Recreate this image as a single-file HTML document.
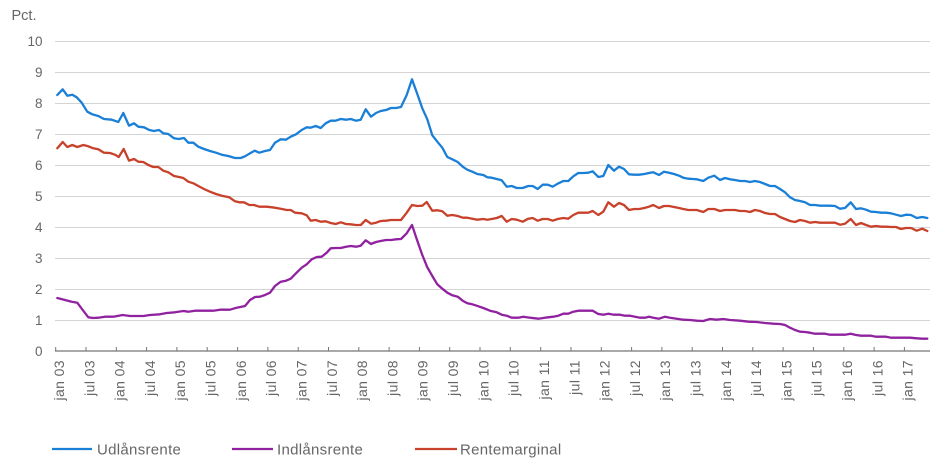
<!DOCTYPE html>
<html>
<head>
<meta charset="utf-8">
<style>
html,body{margin:0;padding:0;background:#fff;}
svg{display:block;}
text{font-family:"Liberation Sans",sans-serif;fill:#666;}
</style>
</head>
<body>
<svg width="938" height="473" viewBox="0 0 938 473" xmlns="http://www.w3.org/2000/svg">
<rect width="938" height="473" fill="#fff"/>
<text x="11.5" y="20" font-size="14.5">Pct.</text>
<g stroke="#d4d4d4" stroke-width="1">
<line x1="55" x2="930" y1="41.5" y2="41.5"/>
<line x1="55" x2="930" y1="72.5" y2="72.5"/>
<line x1="55" x2="930" y1="103.5" y2="103.5"/>
<line x1="55" x2="930" y1="134.5" y2="134.5"/>
<line x1="55" x2="930" y1="165.5" y2="165.5"/>
<line x1="55" x2="930" y1="196.5" y2="196.5"/>
<line x1="55" x2="930" y1="227.5" y2="227.5"/>
<line x1="55" x2="930" y1="258.5" y2="258.5"/>
<line x1="55" x2="930" y1="289.5" y2="289.5"/>
<line x1="55" x2="930" y1="320.5" y2="320.5"/>
</g>
<g font-size="13.5" text-anchor="end">
<text x="42.5" y="46">10</text>
<text x="42.5" y="77">9</text>
<text x="42.5" y="108">8</text>
<text x="42.5" y="139">7</text>
<text x="42.5" y="170">6</text>
<text x="42.5" y="201">5</text>
<text x="42.5" y="232">4</text>
<text x="42.5" y="263">3</text>
<text x="42.5" y="294">2</text>
<text x="42.5" y="325">1</text>
<text x="42.5" y="356">0</text>
</g>
<line x1="55" x2="930" y1="351" y2="351" stroke="#767676" stroke-width="1.3"/>
<g stroke="#767676" stroke-width="1">
<path d="M55.7 347V351M86 347V351M116.3 347V351M146.6 347V351M176.9 347V351M207.2 347V351M237.6 347V351M267.9 347V351M298.2 347V351M328.5 347V351M358.8 347V351M389.1 347V351M419.4 347V351M449.7 347V351M480 347V351M510.3 347V351M540.7 347V351M571 347V351M601.3 347V351M631.6 347V351M661.9 347V351M692.2 347V351M722.5 347V351M752.8 347V351M783.1 347V351M813.4 347V351M843.8 347V351M874.1 347V351M904.4 347V351"/>
</g>
<g font-size="14" text-anchor="end" letter-spacing="0.4">
<text transform="translate(64,360) rotate(-90)">jan 03</text>
<text transform="translate(94.3,360) rotate(-90)">jul 03</text>
<text transform="translate(124.6,360) rotate(-90)">jan 04</text>
<text transform="translate(154.9,360) rotate(-90)">jul 04</text>
<text transform="translate(185.2,360) rotate(-90)">jan 05</text>
<text transform="translate(215.5,360) rotate(-90)">jul 05</text>
<text transform="translate(245.9,360) rotate(-90)">jan 06</text>
<text transform="translate(276.2,360) rotate(-90)">jul 06</text>
<text transform="translate(306.5,360) rotate(-90)">jan 07</text>
<text transform="translate(336.8,360) rotate(-90)">jul 07</text>
<text transform="translate(367.1,360) rotate(-90)">jan 08</text>
<text transform="translate(397.4,360) rotate(-90)">jul 08</text>
<text transform="translate(427.7,360) rotate(-90)">jan 09</text>
<text transform="translate(458,360) rotate(-90)">jul 09</text>
<text transform="translate(488.3,360) rotate(-90)">jan 10</text>
<text transform="translate(518.6,360) rotate(-90)">jul 10</text>
<text transform="translate(549,360) rotate(-90)">jan 11</text>
<text transform="translate(579.3,360) rotate(-90)">jul 11</text>
<text transform="translate(609.6,360) rotate(-90)">jan 12</text>
<text transform="translate(639.9,360) rotate(-90)">jul 12</text>
<text transform="translate(670.2,360) rotate(-90)">jan 13</text>
<text transform="translate(700.5,360) rotate(-90)">jul 13</text>
<text transform="translate(730.8,360) rotate(-90)">jan 14</text>
<text transform="translate(761.1,360) rotate(-90)">jul 14</text>
<text transform="translate(791.4,360) rotate(-90)">jan 15</text>
<text transform="translate(821.7,360) rotate(-90)">jul 15</text>
<text transform="translate(852.1,360) rotate(-90)">jan 16</text>
<text transform="translate(882.4,360) rotate(-90)">jul 16</text>
<text transform="translate(912.7,360) rotate(-90)">jan 17</text>
</g>
<g fill="none" stroke-width="2.3" stroke-linejoin="round" stroke-linecap="round">
<polyline stroke="#91229f" points="57.3,298 65,300 71.7,301.7 77.3,302.7 82.7,310 88.3,317.3 93.3,318 98.3,317.7 105,316.7 113.3,316.7 122.7,315 130,316 143.3,316 150,315 160,314.3 166.7,313 175,312.3 183.3,311 188.3,311.7 195,310.7 213.3,310.7 220,309.7 230,309.7 236.7,307.7 245,306 250,300 255,297 260,296.7 265,295 270,292.7 275,286 280.7,281.7 286,280.7 290.7,278.7 296,273.3 301.7,267.7 306.7,264.3 311.7,259.3 316.7,257 321.7,256.7 326.7,252.7 330.7,248.3 335.7,248 340.7,248 346,246.7 350.7,246 356,246.7 360.7,245.7 365.7,240.3 371,244 376,242 380.7,241 386,240 391,240 396,239.3 401,239 406.7,233.3 412,225 417.3,240.7 422.3,255 427.3,267.3 432.3,276 437.3,284.3 442.3,288.7 447.3,292.7 452.3,295.3 457.7,296.7 462.7,300.7 467.3,303.3 472.3,304.3 476.7,305.7 483.3,308 490,310.7 496.7,312.3 501.7,314.7 506.7,315.7 511.7,317.7 518.3,317.7 523.3,316.7 530,317.7 538.3,318.7 545,317.7 553.3,316.7 558.3,315.7 563.3,313.7 568.3,313.7 573.3,311.7 578.3,310.7 592.7,310.7 598.3,314 603.3,314.7 608.3,313.7 614,314.7 620,314.7 625,315.7 630,315.7 635,316.7 640,317.7 645,317.7 649,316.7 653.3,317.7 659,318.7 665,316.7 670,317.7 676.7,318.7 683.3,319.7 690,320 696.7,320.7 703.3,321 710,319 716.7,319.7 723.3,319 730,320 740,320.7 748.3,321.7 756.7,322 765,323 773.3,323.7 780,324 785,325 790,327.7 795,330 800,331.7 805,332 810,332.7 815,333.7 825,333.7 830,334.7 845,334.7 850.7,333.7 856,335 861,335.7 871,335.7 876,336.7 886,336.7 891,337.7 910,337.7 916.7,338.3 922.3,338.7 927.3,338.7"/>
<polyline stroke="#c8412a" points="57.3,148.3 62.7,142 67.3,147 72.3,145 77.3,147 83.3,145 88.3,146.3 93.3,148.3 98.3,149.3 104,152.7 110,153 115,154.7 118.7,157 123.7,149 129,160.7 134,159 138.3,161.7 143.3,162 148.3,165 153.3,167 158.3,167 163.3,170.7 168.3,172.3 174,176 179,177 183.3,178 188.3,181.7 193.3,183.3 198.3,186 204,189 210,191.7 216,194 221.7,195.7 229.3,197.3 235,201.3 239.3,202.3 244,202.3 249.3,205 254,205 259.3,206.7 266.7,206.7 275,207.7 280.7,208.7 286.7,210 290.7,210 295,212.7 301.7,213.3 306.7,215.3 310.7,220.7 315.7,220 320.7,221.7 325.7,221.3 330.7,223 335.7,224 340.7,222.3 346,224 350.7,224.3 356,225 360.7,225 365.7,220 371,223.7 376,222.7 380.7,221 386,220.7 391,220 396,220 401,220 406.7,212.7 412,205 417.3,206 422.3,205.7 426.7,202 432.3,210.7 437.3,210.3 442.3,211.3 447.3,215.7 452.3,215 457.7,216 462.7,217.7 467.3,217.7 472.3,218.7 477.3,219.7 483.3,219 487.3,219.7 491.7,219 496.7,218 501.7,216 506.7,221.7 511.7,219 516.7,219.7 522.7,221.7 528.3,218.7 532.7,218 537.7,220.7 542.7,219 547.7,219 552.7,220.7 557.7,219 563.3,218 568.3,218.7 573.3,215 578.3,212.7 583.3,212.7 588.3,212.7 592.7,211 598.3,215 603.3,211.7 608.3,202.3 614,206.7 619,203 624,205 629,210 634.3,209 639.3,209 644.3,208 649,206.7 653.3,205 659,208 664,206 669,206 674,207 679,208 683.3,209 688.3,210 696.7,210 703.3,212 708.3,209 714.3,209 720,211 725,210 730,210 735,210 740,211 745,211 750,212 755,210 760,211 765,213 770,214 775,214 780,217 785,219 790,221 795,222 800,220 805,221 810,222.7 815,222 820,222.7 825,222.7 830,222.7 835,222.7 840,224.7 845,223.7 850.7,219 856,225 861,223 866,225 871,226.7 876,226 881,226.7 886,226.7 891,227 896,227 901,229 906,228 911,228 916.7,230.7 922.3,228.7 927.3,231"/>
<polyline stroke="#1a7fd6" points="57.3,95 62.7,89.3 67.3,95.7 72.3,94.7 76.7,97.3 81.7,102.7 87.3,111.7 92.3,114.3 98.3,116 104,119 111.7,119.7 118.3,122 123.3,113 129,125.7 134,123.3 138.3,126.7 144,127.3 149.3,130 154,131 159,130 163.3,133.3 168.3,134 174,138.3 178.7,139 184,138 188.3,142.7 193.3,142.7 198.3,146.7 204,149 210,151 216,152.7 221.7,154.7 228.3,156 235,158 240.7,158 245,156.3 250,153.3 254.7,150.7 259.3,152.7 265,151 270,150 275,142.7 280.7,139.3 286,139.7 290.7,136.7 296,134.3 301.7,130 306.7,127.3 310.7,127.7 315.7,126 320.7,128 325.7,123.3 330.7,120.7 335.7,120.7 340.7,119 346,119.7 350.7,119 356,120.7 360.7,119.7 365.7,109.3 371,116.7 376,113 380.7,111 386,110 391,108 396,108 401,107 406.7,95 412,79.3 417.3,94 422.3,108.3 427.3,119.3 432.3,135.3 437.3,141.7 442.3,147.7 447.3,157 452.3,159.3 457.7,162 462.7,166.7 467.3,169.7 472.3,171.7 477.3,174 483.3,175 487.3,177.3 491.7,177.7 496.7,179 501.7,180.3 506.7,186.7 511.7,186 516.7,188 522.7,188 528.3,186 532.7,186 537.7,189 542.7,184.7 547.7,184.7 552.7,186.7 557.7,183.7 563.3,181 568.3,181 573.3,176.3 578.3,173 583.3,173 588.3,172.7 592.7,171.3 598.3,177 603.3,176 608.3,165 614,170.7 619,166.7 624,169 629,174.3 634.3,174.7 639.3,174.7 644.3,174 649,173 653.3,172.3 659,175 664,171.7 669,172.7 674,174 679,175.7 683.3,177.7 688.3,178.7 693.3,179 696.7,179.3 703.3,181 708.3,177.7 714.3,175.7 720,180 725,178 730,179.3 735,180 740,181 745,181 750,182 755,181 760,182 765,184 770,186 775,186 780,189 785,192.3 790,197.3 795,200 800,201 805,202.3 810,205 815,205 820,205.7 825,205.7 830,205.7 835,206 840,208.7 845,208 850.7,202.3 856,209 861,208.3 866,209.7 871,211.7 876,212 881,212.7 886,212.7 891,213.3 896,214.7 901,216 906,214.7 911,215 916.7,218 922.3,217 927.3,218"/>
</g>
<g stroke-width="2.3">
<line x1="52" x2="92" y1="449" y2="449" stroke="#1a7fd6"/>
<line x1="232" x2="273" y1="449" y2="449" stroke="#91229f"/>
<line x1="415" x2="457" y1="449" y2="449" stroke="#c8412a"/>
</g>
<g font-size="15" letter-spacing="0.3">
<text x="97" y="454.5">Udlånsrente</text>
<text x="277" y="454.5">Indlånsrente</text>
<text x="460" y="454.5">Rentemarginal</text>
</g>
</svg>
</body>
</html>
